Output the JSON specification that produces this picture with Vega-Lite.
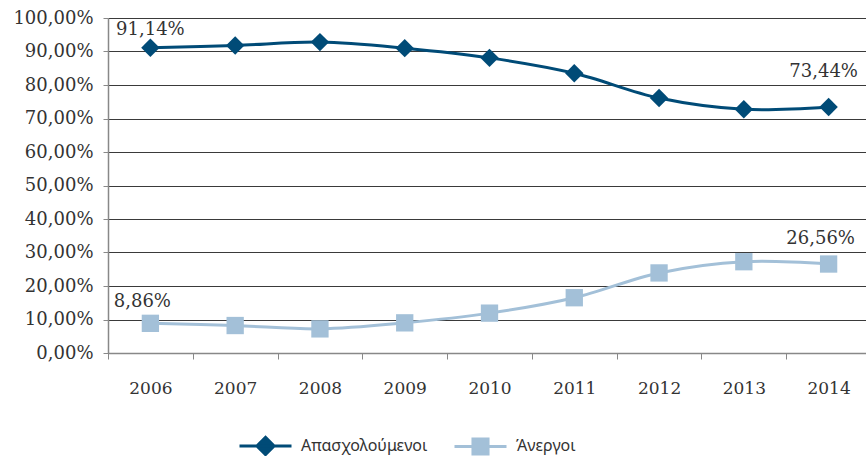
{
  "$schema": "https://vega.github.io/schema/vega-lite/v6.json",
  "autosize": {"type": "none"},
  "padding": {"left": 108, "top": 18, "right": 0, "bottom": 103},
  "width": 763,
  "height": 335,
  "background": "white",
  "config": {
    "view": {"stroke": null},
    "axis": {"labelFont": "DejaVu Serif", "labelColor": "#333333"},
    "legend": {
      "symbolSize": 2704, "symbolStrokeWidth": 3, "symbolOpacity": 1,
      "labelFont": "Noto Sans", "labelFontSize": 16, "labelColor": "#333333",
      "columnPadding": 20, "labelOffset": 8
    }
  },
  "data": {
    "values": [
      {"year": "2006", "series": "Απασχολούμενοι", "value": 91.14, "label": "91,14%"},
      {"year": "2007", "series": "Απασχολούμενοι", "value": 91.8, "label": ""},
      {"year": "2008", "series": "Απασχολούμενοι", "value": 92.8, "label": ""},
      {"year": "2009", "series": "Απασχολούμενοι", "value": 91.0, "label": ""},
      {"year": "2010", "series": "Απασχολούμενοι", "value": 88.1, "label": ""},
      {"year": "2011", "series": "Απασχολούμενοι", "value": 83.5, "label": ""},
      {"year": "2012", "series": "Απασχολούμενοι", "value": 76.1, "label": ""},
      {"year": "2013", "series": "Απασχολούμενοι", "value": 72.75, "label": ""},
      {"year": "2014", "series": "Απασχολούμενοι", "value": 73.44, "label": "73,44%"},
      {"year": "2006", "series": "Άνεργοι", "value": 8.86, "label": "8,86%"},
      {"year": "2007", "series": "Άνεργοι", "value": 8.2, "label": ""},
      {"year": "2008", "series": "Άνεργοι", "value": 7.2, "label": ""},
      {"year": "2009", "series": "Άνεργοι", "value": 9.0, "label": ""},
      {"year": "2010", "series": "Άνεργοι", "value": 11.9, "label": ""},
      {"year": "2011", "series": "Άνεργοι", "value": 16.5, "label": ""},
      {"year": "2012", "series": "Άνεργοι", "value": 23.9, "label": ""},
      {"year": "2013", "series": "Άνεργοι", "value": 27.25, "label": ""},
      {"year": "2014", "series": "Άνεργοι", "value": 26.56, "label": "26,56%"}
    ]
  },
  "encoding": {
    "x": {
      "field": "year", "type": "nominal", "sort": null,
      "scale": {"type": "band", "paddingInner": 0, "paddingOuter": 0},
      "axis": {
        "title": null, "labelAngle": 0, "tickBand": "extent", "tickSize": 6,
        "tickColor": "#888888", "domainColor": "#888888", "domainWidth": 1.5,
        "labelPadding": 21, "labelFontSize": 17, "grid": false
      }
    },
    "y": {
      "field": "value", "type": "quantitative",
      "scale": {"domain": [0, 100], "nice": false},
      "axis": {
        "title": null, "values": [0, 10, 20, 30, 40, 50, 60, 70, 80, 90, 100],
        "labelExpr": "replace(format(datum.value, '.2f'), '.', ',') + '%'",
        "tickSize": 5, "tickColor": "#888888", "domainColor": "#888888", "domainWidth": 1.5,
        "gridColor": "#3a3a3a", "gridWidth": 1, "labelPadding": 10, "labelFontSize": 18
      }
    }
  },
  "layer": [
    {
      "transform": [{"filter": "datum.series == 'Απασχολούμενοι'"}],
      "mark": {"type": "line", "interpolate": "catmull-rom", "strokeWidth": 3, "color": "#004b77"}
    },
    {
      "transform": [{"filter": "datum.series == 'Άνεργοι'"}],
      "mark": {"type": "line", "interpolate": "catmull-rom", "strokeWidth": 3, "color": "#a3c0d8"}
    },
    {
      "transform": [{"filter": "datum.series == 'Απασχολούμενοι'"}],
      "mark": {"type": "point", "filled": true, "opacity": 1, "shape": "diamond", "size": 340, "color": "#004b77"}
    },
    {
      "transform": [{"filter": "datum.series == 'Άνεργοι'"}],
      "mark": {"type": "point", "filled": true, "opacity": 1, "shape": "square", "size": 300, "color": "#a3c0d8"}
    },
    {
      "transform": [{"filter": "datum.value < 0"}],
      "mark": {"type": "point", "filled": true},
      "encoding": {
        "fill": {
          "field": "series", "type": "nominal",
          "scale": {"domain": ["Απασχολούμενοι", "Άνεργοι"], "range": ["#004b77", "#a3c0d8"]},
          "legend": {"title": null, "orient": "none", "direction": "horizontal", "legendX": 130, "legendY": 400}
        },
        "stroke": {
          "field": "series", "type": "nominal",
          "scale": {"domain": ["Απασχολούμενοι", "Άνεργοι"], "range": ["#004b77", "#a3c0d8"]},
          "legend": {"title": null, "orient": "none", "direction": "horizontal", "legendX": 130, "legendY": 400}
        },
        "shape": {
          "field": "series", "type": "nominal",
          "scale": {
            "domain": ["Απασχολούμενοι", "Άνεργοι"],
            "range": ["M-1,0H1M0,-0.33L0.33,0L0,0.33L-0.33,0Z", "M-1,0H1M-0.29,-0.29H0.29V0.29H-0.29Z"]
          },
          "legend": {"title": null, "orient": "none", "direction": "horizontal", "legendX": 130, "legendY": 400}
        }
      }
    },
    {
      "transform": [{"filter": "datum.series == 'Απασχολούμενοι' && datum.year == '2006'"}],
      "mark": {"type": "text", "font": "DejaVu Serif", "fontSize": 18, "color": "#333333", "dy": -18},
      "encoding": {"text": {"field": "label"}}
    },
    {
      "transform": [{"filter": "datum.series == 'Απασχολούμενοι' && datum.year == '2014'"}],
      "mark": {"type": "text", "font": "DejaVu Serif", "fontSize": 18, "color": "#333333", "dy": -35, "dx": -5},
      "encoding": {"text": {"field": "label"}}
    },
    {
      "transform": [{"filter": "datum.series == 'Άνεργοι' && datum.year == '2006'"}],
      "mark": {"type": "text", "font": "DejaVu Serif", "fontSize": 18, "color": "#333333", "dy": -21, "dx": -8},
      "encoding": {"text": {"field": "label"}}
    },
    {
      "transform": [{"filter": "datum.series == 'Άνεργοι' && datum.year == '2014'"}],
      "mark": {"type": "text", "font": "DejaVu Serif", "fontSize": 18, "color": "#333333", "dy": -25, "dx": -8},
      "encoding": {"text": {"field": "label"}}
    }
  ]
}
